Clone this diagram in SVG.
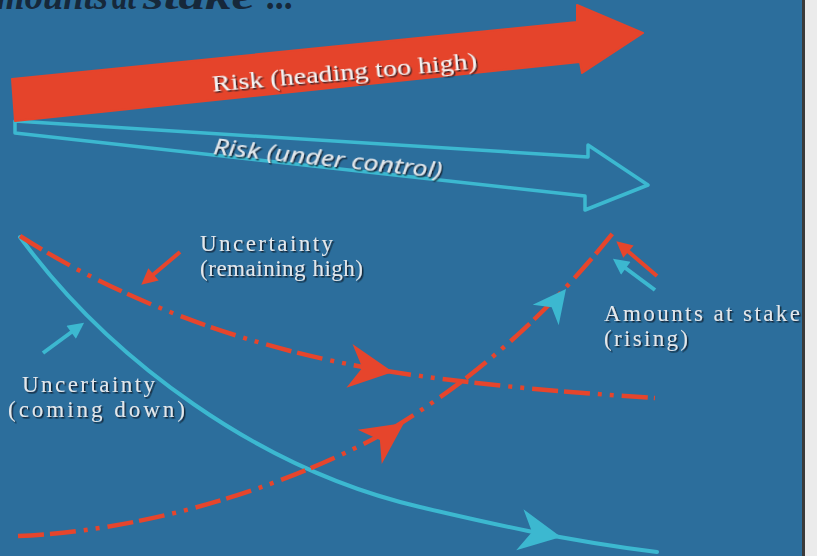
<svg xmlns="http://www.w3.org/2000/svg" width="817" height="556" viewBox="0 0 817 556">
<defs>
<style>
.lbl{font-family:"Liberation Serif","Times New Roman",serif;font-size:23px;fill:#e3e7eb;filter:url(#sh)}
.dash{fill:none;stroke:#e6452c;stroke-width:4.5;stroke-dasharray:26 6 26 8 4 8 4 8}
.solid{fill:none;stroke:#3cb8d0;stroke-width:4;stroke-linecap:round}
.annR{stroke:#e6452c;stroke-width:4;fill:none}
.annC{stroke:#3cb8d0;stroke-width:4;fill:none}
</style>
<filter id="sh" x="-10%" y="-30%" width="120%" height="160%">
<feDropShadow dx="1.5" dy="1.5" stdDeviation="0.7" flood-color="#0b1826" flood-opacity="0.85"/>
</filter>
<path id="head" d="M0,0 L-44,-22 L-31,0 L-44,22 Z"/>
<marker id="mR" viewBox="0 0 10 10" refX="4.5" refY="5" markerWidth="18" markerHeight="16" markerUnits="userSpaceOnUse" orient="auto"><path d="M0,0 L10,5 L0,10 Z" fill="#e6452c"/></marker>
<marker id="mC" viewBox="0 0 10 10" refX="4.5" refY="5" markerWidth="18" markerHeight="16" markerUnits="userSpaceOnUse" orient="auto"><path d="M0,0 L10,5 L0,10 Z" fill="#3cb8d0"/></marker>
</defs>

<rect x="0" y="0" width="803" height="556" fill="#2c6e9c"/>
<rect x="802" y="0" width="3" height="556" fill="#3a3a3a"/>
<rect x="805" y="0" width="12" height="556" fill="#ebebeb"/>

<g id="title">
<text font-family="Liberation Serif,serif" font-size="38" font-weight="bold" font-style="italic" fill="#16283a" y="9"><tspan x="-28" textLength="136" lengthAdjust="spacingAndGlyphs">Amounts</tspan><tspan x="112" textLength="24" lengthAdjust="spacingAndGlyphs">at</tspan><tspan x="143" textLength="112" lengthAdjust="spacingAndGlyphs">stake</tspan><tspan x="267" textLength="27" lengthAdjust="spacingAndGlyphs">...</tspan></text>
</g>

<g id="risk-under-control">
<path d="M15,121 L588,157 L588,145 L648,185 L585,210 L585,196 L15,133 Z" fill="none" stroke="#3cb8d0" stroke-width="3.5" stroke-linejoin="round"/>
<text class="lbl" font-style="italic" text-anchor="middle" x="327" y="166" transform="rotate(6 327 166)" textLength="230" lengthAdjust="spacingAndGlyphs" style="font-family:'Noto Sans','DejaVu Sans',sans-serif;font-size:22px">Risk (under control)</text>
</g>

<g id="risk-heading-too-high">
<path d="M12,79 L577,22 L577,5 L643,33 L582,73 L580,62 L15,121 Z" fill="#e5442b" stroke="#e5442b" stroke-width="2" stroke-linejoin="round"/>
<text class="lbl" text-anchor="middle" x="345" y="80" transform="rotate(-5 345 80)" textLength="266" lengthAdjust="spacingAndGlyphs" style="fill:#f4f4f4;font-size:24px">Risk (heading too high)</text>
</g>

<g id="connectors">
<path class="solid" d="M20,237 C110,360 260,470 420,507 C480,521 560,540 657,552"/>
<path class="dash" d="M20,236 C120,300 250,350 393,372 C470,384 560,392 655,398"/>
<path class="dash" d="M18,536 C160,530 300,480 390,430 C430,405 520,350 617,228"/>
<use href="#head" fill="#e6452c" transform="translate(393,372) rotate(8)"/>
<use href="#head" fill="#e6452c" transform="translate(404,423) rotate(-35) scale(0.95)"/>
<use href="#head" fill="#3cb8d0" transform="translate(561,537) rotate(10) scale(0.95)"/>
<use href="#head" fill="#3cb8d0" transform="translate(566,289) rotate(-52) scale(0.75)"/>
<line class="annR" x1="180" y1="252" x2="148" y2="279" marker-end="url(#mR)"/>
<line class="annC" x1="43" y1="353" x2="77" y2="328" marker-end="url(#mC)"/>
<line class="annR" x1="657" y1="276" x2="623" y2="247" marker-end="url(#mR)"/>
<line class="annC" x1="655" y1="290" x2="620" y2="264" marker-end="url(#mC)"/>
</g>

<g id="label-remaining-high">
<text class="lbl" x="200" y="251" textLength="133" lengthAdjust="spacing">Uncertainty</text>
<text class="lbl" x="200" y="276" textLength="163" lengthAdjust="spacing">(remaining high)</text>
</g>
<g id="label-coming-down">
<text class="lbl" x="22" y="392" textLength="133" lengthAdjust="spacing">Uncertainty</text>
<text class="lbl" x="8" y="417" textLength="177" lengthAdjust="spacing">(coming down)</text>
</g>
<g id="label-amounts">
<text class="lbl" x="604" y="321" textLength="196" lengthAdjust="spacing">Amounts at stake</text>
<text class="lbl" x="604" y="346" textLength="84" lengthAdjust="spacing">(rising)</text>
</g>
</svg>
